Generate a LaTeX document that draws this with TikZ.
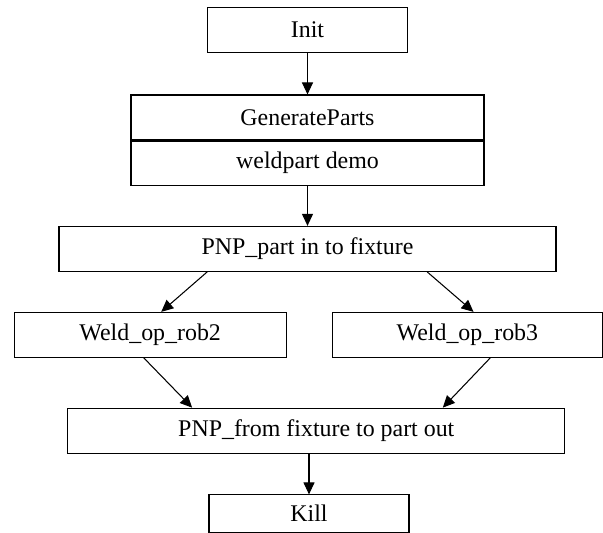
\documentclass[tikz,border=0pt]{standalone}
\usepackage{fontspec}
\setmainfont{Liberation Serif}
\usetikzlibrary{arrows.meta}
\usetikzlibrary{positioning}

\begin{document}
\begin{tikzpicture}[
  blk/.style={draw, line width=0.6pt, minimum height=0.9cm, inner sep=0pt, fill=white, font=\fontsize{13.6}{16}\selectfont},
  flow/.style={-{Triangle[length=0.24cm, width=0.22cm]}, line width=0.6pt}]
\useasboundingbox (0,0) rectangle (12.06,-10.66);

\node[blk, minimum width=4.01cm] (init) at (6.15,-0.594) {Init};
\node[blk, minimum width=7.06cm] (gen) at (6.15,-2.35) {GenerateParts};
\node[blk, minimum width=7.06cm, minimum height=0.886cm, below=0pt of gen] (demo) {weldpart demo};
\node[blk, minimum width=9.94cm] (pin) at (6.15,-4.978) {PNP\_part in to fixture};

\node[blk, minimum width=5.434cm] (w2) at (3.004,-6.698) {Weld\_op\_rob2};
\node[blk, minimum width=5.386cm] (w3) at (9.348,-6.698) {Weld\_op\_rob3};

\node[blk, minimum width=9.946cm] (pout) at (6.326,-8.614) {PNP\_from fixture to part out};
\node[blk, minimum width=4.0cm, minimum height=0.75cm] (kill) at (6.18,-10.274) {Kill};

\draw [flow] (init.south) -- (gen.north);
\draw [flow] (demo.south) -- (pin.north);

\draw [flow] ([xshift=2.974cm]pin.south west) -- ([xshift=2.948cm]w2.north west);
\draw [flow] ([xshift=-2.586cm]pin.south east) -- ([xshift=2.826cm]w3.north west);

\draw [flow] ([xshift=2.6cm]w2.south west) -- ([xshift=2.5cm]pout.north west);
\draw [flow] ([xshift=3.16cm]w3.south west) -- ([xshift=-2.454cm]pout.north east);

\draw [flow] (pout.south -| kill.north) -- (kill.north);
\end{tikzpicture}
\end{document}
